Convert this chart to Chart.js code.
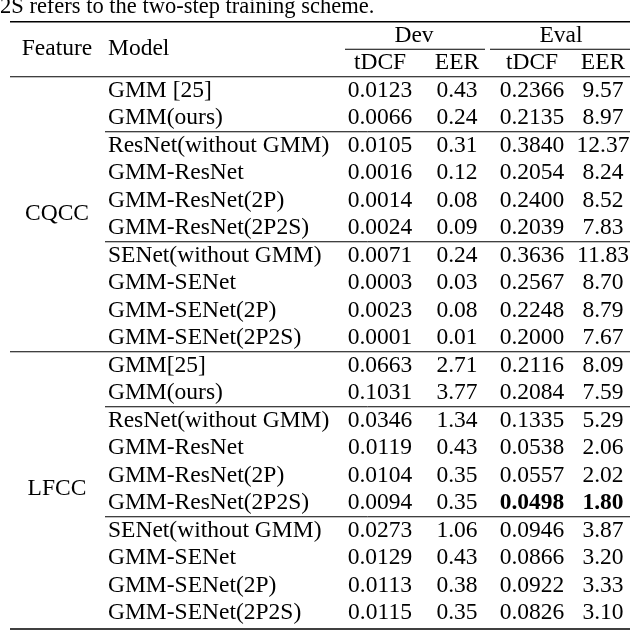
<!DOCTYPE html>
<html><head><meta charset="utf-8">
<script src="https://cdn.jsdelivr.net/npm/chart.js"></script>
<style>html,body{margin:0;padding:0;background:#fff}#w{width:640px;height:638px}</style>
</head><body><div id="w"><canvas id="c"></canvas></div>
<script>
const caption = "2S refers to the two-step training scheme.";
const features = ["CQCC","LFCC"];
const models = ["GMM [25]","GMM(ours)","ResNet(without GMM)","GMM-ResNet","GMM-ResNet(2P)","GMM-ResNet(2P2S)","SENet(without GMM)","GMM-SENet","GMM-SENet(2P)","GMM-SENet(2P2S)",
"GMM[25]","GMM(ours)","ResNet(without GMM)","GMM-ResNet","GMM-ResNet(2P)","GMM-ResNet(2P2S)","SENet(without GMM)","GMM-SENet","GMM-SENet(2P)","GMM-SENet(2P2S)"];
const devTDCF = ["0.0123","0.0066","0.0105","0.0016","0.0014","0.0024","0.0071","0.0003","0.0023","0.0001","0.0663","0.1031","0.0346","0.0119","0.0104","0.0094","0.0273","0.0129","0.0113","0.0115"];
const devEER = ["0.43","0.24","0.31","0.12","0.08","0.09","0.24","0.03","0.08","0.01","2.71","3.77","1.34","0.43","0.35","0.35","1.06","0.43","0.38","0.35"];
const evalTDCF = ["0.2366","0.2135","0.3840","0.2054","0.2400","0.2039","0.3636","0.2567","0.2248","0.2000","0.2116","0.2084","0.1335","0.0538","0.0557","0.0498","0.0946","0.0866","0.0922","0.0826"];
const evalEER = ["9.57","8.97","12.37","8.24","8.52","7.83","11.83","8.70","8.79","7.67","8.09","7.59","5.29","2.06","2.02","1.80","3.87","3.20","3.33","3.10"];
const boldRow = 15;
const rowLabels = ["cap","h1","h2"].concat(models.map((m,i)=>"r"+i));

const tablePlugin = {
  id:'table',
  afterDraw(chart){
    const ctx = chart.ctx, y = chart.scales.y;
    const Y = i => y.getPixelForValue(i);
    const mid = i => (Y(i)+Y(i+1))/2;
    const font = (b,s)=> (b?'bold ':'')+(s||23.5)+'px "Liberation Serif", serif';
    ctx.save();
    ctx.fillStyle='#000'; ctx.textBaseline='middle';
    const txt=(t,x,yy,al,b,s)=>{ctx.font=font(b,s);ctx.textAlign=al;ctx.fillText(t,x,yy);};
    txt(caption,0,Y(0)-1,'left',false,22.5);
    txt("Feature",57,Y(1)+13,'center'); txt("Model",108,Y(1)+13,'left');
    txt("Dev",414,Y(1),'center'); txt("Eval",561,Y(1),'center');
    txt("tDCF",380,Y(2),'center'); txt("EER",457,Y(2),'center');
    txt("tDCF",532,Y(2),'center'); txt("EER",603,Y(2),'center');
    models.forEach((m,i)=>{
      const yy=Y(i+3);
      txt(m,108,yy,'left');
      txt(devTDCF[i],380,yy,'center'); txt(devEER[i],457,yy,'center');
      txt(evalTDCF[i],532,yy,'center',i===boldRow); txt(evalEER[i],603,yy,'center',i===boldRow);
    });
    txt(features[0],57,(Y(3)+Y(12))/2,'center');
    txt(features[1],57,(Y(13)+Y(22))/2,'center');
    ctx.strokeStyle='#000';
    const line=(x1,x2,yy,w)=>{ctx.lineWidth=w;ctx.beginPath();ctx.moveTo(x1,yy);ctx.lineTo(x2,yy);ctx.stroke();};
    line(10,630,mid(0),1.5);
    line(345,485,mid(1),1); line(490,630,mid(1),1);
    line(10,630,mid(2),1);
    line(105,630,mid(4),1); line(105,630,mid(8),1);
    line(10,630,mid(12),1);
    line(105,630,mid(14),1); line(105,630,mid(18),1);
    line(10,630,Y(22)+16,1.5);
    ctx.restore();
  }
};
new Chart(document.getElementById('c'),{
  type:'scatter',
  data:{datasets:[{data:[]}]},
  options:{responsive:true,maintainAspectRatio:false,animation:false,
    layout:{padding:{top:8,bottom:25,left:0,right:0}},
    plugins:{legend:{display:false},tooltip:{enabled:false}},
    scales:{
      x:{type:'linear',min:0,max:1,display:false},
      y:{type:'category',labels:rowLabels,offset:false,display:false}
    }},
  plugins:[tablePlugin]
});
</script></body></html>
